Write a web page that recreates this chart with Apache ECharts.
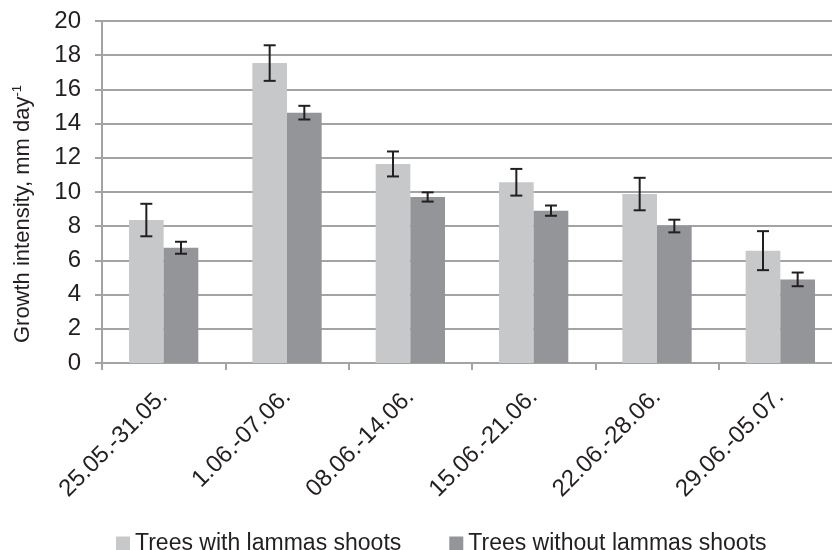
<!DOCTYPE html>
<html>
<head>
<meta charset="utf-8">
<script src="https://cdn.jsdelivr.net/npm/echarts@6/dist/echarts.min.js"></script>
<style>
  html, body { margin: 0; padding: 0; background: #fff; overflow: hidden; }
  /* the last category runs a few pixels past the right edge of the window */
  #chart { width: 842px; height: 550px; }
</style>
</head>
<body>
<div id="chart"></div>
<script>
// Weekly periods
const periods = ['25.05.-31.05.', '1.06.-07.06.', '08.06.-14.06.', '15.06.-21.06.', '22.06.-28.06.', '29.06.-05.07.'];

// Mean growth intensity, mm per day
const withLammas = [8.36, 17.54, 11.64, 10.57, 9.88, 6.57];
const withoutLammas = [6.74, 14.64, 9.71, 8.91, 8.01, 4.89];

// Error bar half-widths
const withLammasErr = [0.95, 1.04, 0.73, 0.78, 0.95, 1.14];
const withoutLammasErr = [0.35, 0.40, 0.27, 0.30, 0.37, 0.40];

// Y axis ticks
const yMin = 0, yMax = 20, yStep = 2;

const seriesNames = ['Trees with lammas shoots', 'Trees without lammas shoots'];
const colors = ['#c7c8ca', '#939598'];
const barFrac = 0.281;
const font = 'Liberation Sans, Arial, sans-serif';
const textColor = '#231f20';
const lineColor = '#a3a3a3';

function errorSeries(means, errs, side) {
  return {
    type: 'custom',
    silent: true,
    z: 10,
    data: means.map((m, i) => [i, m - errs[i], m + errs[i]]),
    renderItem(params, api) {
      const band = api.size([1, 0])[0];
      const off = side * band * barFrac / 2;
      const lo = api.coord([api.value(0), api.value(1)]);
      const hi = api.coord([api.value(0), api.value(2)]);
      const x = lo[0] + off;
      const cap = 6;
      const style = { stroke: '#231f20', lineWidth: 2 };
      return {
        type: 'group',
        children: [
          { type: 'line', shape: { x1: x, y1: lo[1], x2: x, y2: hi[1] }, style },
          { type: 'line', shape: { x1: x - cap, y1: lo[1], x2: x + cap, y2: lo[1] }, style },
          { type: 'line', shape: { x1: x - cap, y1: hi[1], x2: x + cap, y2: hi[1] }, style }
        ]
      };
    }
  };
}

const chart = echarts.init(document.getElementById('chart'), null, { renderer: 'canvas' });
chart.setOption({
  animation: false,
  backgroundColor: '#fff',
  textStyle: { fontFamily: font, color: textColor },
  grid: { left: 102, top: 21, right: 0, height: 342, containLabel: false },
  graphic: [
    {
      type: 'text',
      x: 23,
      y: 214,
      rotation: Math.PI / 2,
      style: {
        text: '{t|Growth intensity, mm day}{s|-1}',
        align: 'center',
        verticalAlign: 'middle',
        rich: {
          t: { fontSize: 22, fill: textColor, fontFamily: font },
          s: { fontSize: 13, fill: textColor, fontFamily: font, padding: [0, 0, 12, 0] }
        }
      }
    }
  ],
  legend: {
    data: seriesNames,
    left: 111,
    top: 527,
    itemWidth: 14,
    itemHeight: 14,
    itemGap: 48,
    icon: 'rect',
    textStyle: { fontSize: 23, color: textColor, fontFamily: font }
  },
  xAxis: {
    type: 'category',
    data: periods,
    axisLine: { lineStyle: { color: lineColor, width: 2 } },
    axisTick: { show: true, length: 7, lineStyle: { color: lineColor, width: 2 } },
    axisLabel: { rotate: 45, margin: 30, fontSize: 24, color: textColor, fontFamily: font, interval: 0 }
  },
  yAxis: {
    type: 'value',
    min: yMin,
    max: yMax,
    interval: yStep,
    axisLine: { show: true, lineStyle: { color: lineColor, width: 2 } },
    axisTick: { show: true, length: 7, lineStyle: { color: lineColor, width: 2 } },
    axisLabel: { margin: 21, fontSize: 24, color: textColor, fontFamily: font },
    splitLine: { lineStyle: { color: lineColor, width: 2 } }
  },
  series: [
    {
      name: seriesNames[0], type: 'bar', data: withLammas,
      barWidth: (barFrac * 100) + '%', barGap: '0%',
      itemStyle: { color: colors[0] }
    },
    {
      name: seriesNames[1], type: 'bar', data: withoutLammas,
      barWidth: (barFrac * 100) + '%', barGap: '0%',
      itemStyle: { color: colors[1] }
    },
    errorSeries(withLammas, withLammasErr, -1),
    errorSeries(withoutLammas, withoutLammasErr, 1)
  ]
});
</script>
</body>
</html>
